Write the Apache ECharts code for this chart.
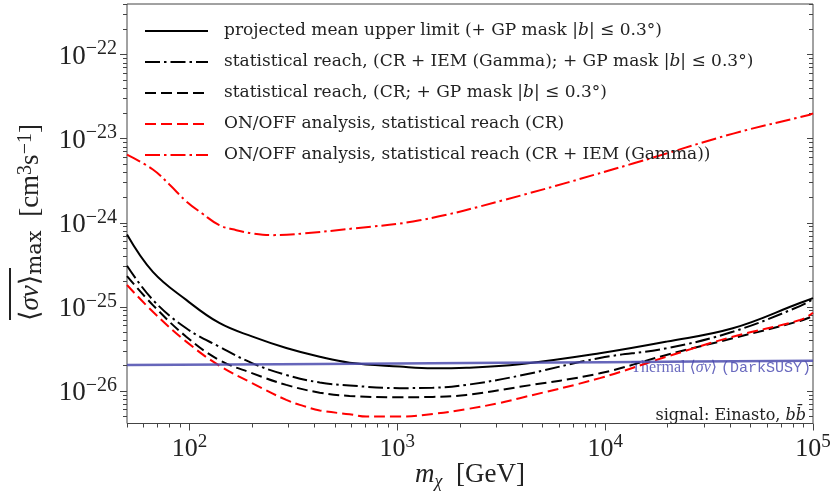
<!DOCTYPE html>
<html>
<head>
<meta charset="utf-8">
<script src="https://cdn.jsdelivr.net/npm/echarts@6/dist/echarts.min.js"></script>
<style>
  html, body { margin: 0; padding: 0; background: #fff; }
  #chart { width: 832px; height: 495px; }
</style>
</head>
<body>
<div id="chart"></div>
<script>
// values (m in GeV, <sigma v> in cm^3 s^-1)
var massLimit = [50, 66.6, 96.4, 139, 201, 292, 423, 589, 1025, 1480, 2147, 3880, 9420, 19700, 41100, 86500, 100000];
var sigvLimit = [7.26e-25, 2.61e-25, 1.21e-25, 6.43e-26, 4.42e-26, 3.24e-26, 2.55e-26, 2.17e-26, 1.95e-26, 1.86e-26, 1.89e-26, 2.08e-26, 2.81e-26, 3.86e-26, 5.56e-26, 1.11e-25, 1.27e-25];

var massReachIem = [50, 66.6, 96.4, 139, 201, 292, 423, 589, 1025, 1480, 2147, 3880, 9420, 19700, 41100, 86500, 100000];
var sigvReachIem = [3.08e-25, 1.21e-25, 5.56e-26, 3.36e-26, 2.13e-26, 1.55e-26, 1.26e-26, 1.16e-26, 1.08e-26, 1.09e-26, 1.18e-26, 1.52e-26, 2.47e-26, 3.21e-26, 5.06e-26, 1.02e-25, 1.24e-25];

var massReachCr = [50, 66.6, 96.4, 139, 201, 292, 423, 589, 1025, 1480, 2147, 3880, 9420, 19700, 41100, 86500, 100000];
var sigvReachCr = [2.32e-25, 1.05e-25, 4.42e-26, 2.33e-26, 1.62e-26, 1.18e-26, 9.54e-27, 8.72e-27, 8.41e-27, 8.49e-27, 8.96e-27, 1.12e-26, 1.62e-26, 2.68e-26, 4.23e-26, 6.8e-26, 7.78e-26];

var massOnOffCr = [50, 66.6, 96.4, 139, 201, 292, 352, 423, 589, 710, 1025, 1480, 2147, 3110, 3880, 9420, 19700, 41100, 86500, 100000];
var sigvOnOffCr = [1.82e-25, 8.75e-26, 3.86e-26, 2.0e-26, 1.23e-26, 7.82e-27, 6.64e-27, 5.85e-27, 5.28e-27, 4.95e-27, 4.95e-27, 5.33e-27, 6.07e-27, 7.2e-27, 8.2e-27, 1.42e-26, 2.55e-26, 4.42e-26, 6.97e-26, 8.51e-26];

var massOnOffIem = [50, 66.6, 80, 96.4, 115, 139, 168, 202, 252, 352, 611, 1280, 3220, 13600, 41300, 96600, 100000];
var sigvOnOffIem = [6.47e-24, 4.3e-24, 2.85e-24, 1.8e-24, 1.29e-24, 9.37e-25, 8.17e-25, 7.46e-25, 7.13e-25, 7.46e-25, 8.55e-25, 1.07e-24, 1.85e-24, 5.06e-24, 1.15e-23, 1.93e-23, 2.0e-23];

var massThermal = [50, 1000, 10000, 100000];
var sigvThermal = [2.03e-26, 2.12e-26, 2.2e-26, 2.29e-26];

var xMajor = [2, 3, 4, 5];          // exponents of 10 (GeV)
var yMajor = [-26, -25, -24, -23, -22];

var seriesNames = [
  'projected mean upper limit (+ GP mask |b| ≤ 0.3°)',
  'statistical reach, (CR + IEM (Gamma); + GP mask |b| ≤ 0.3°)',
  'statistical reach, (CR; + GP mask |b| ≤ 0.3°)',
  'ON/OFF analysis, statistical reach (CR)',
  'ON/OFF analysis, statistical reach (CR + IEM (Gamma))'
];
var legendRich = [
  '{t|projected mean upper limit (+ GP mask |}{i|b}{t|| ≤ 0.3°)}',
  '{t|statistical reach, (CR + IEM (Gamma); + GP mask |}{i|b}{t|| ≤ 0.3°)}',
  '{t|statistical reach, (CR; + GP mask |}{i|b}{t|| ≤ 0.3°)}',
  '{t|ON/OFF analysis, statistical reach (CR)}',
  '{t|ON/OFF analysis, statistical reach (CR + IEM (Gamma))}'
];

var xMin = Math.log10(50), xMax = 5;
var yMin = Math.log10(4.1e-27), yMax = Math.log10(4e-22);

var SERIF = '"Liberation Serif", "DejaVu Serif", serif';
var WIDE = '"DejaVu Serif", "Liberation Serif", serif';
var AXC = '#444';

function toLog(ms, vs) {
  var out = [];
  for (var i = 0; i < ms.length; i++) out.push([Math.log10(ms[i]), Math.log10(vs[i])]);
  return out;
}

function minorTicks(lo, hi, n0, n1) {
  var t = [];
  for (var n = n0; n <= n1; n++) {
    for (var k = 2; k <= 9; k++) {
      var v = n + Math.log10(k);
      if (v >= lo - 1e-9 && v <= hi + 1e-9) t.push(v);
    }
  }
  return t;
}

var xMinor = minorTicks(xMin, xMax, 1, 4);
var yMinor = minorTicks(yMin, yMax, -27, -22);

var chart = echarts.init(document.getElementById('chart'), null, { renderer: 'canvas' });

var xTickRich = {
  b: { fontFamily: SERIF, fontSize: 26, lineHeight: 30, color: '#222', verticalAlign: 'bottom' },
  s: { fontFamily: SERIF, fontSize: 19, lineHeight: 18, color: '#222', verticalAlign: 'top' }
};
var yTickRich = {
  b: { fontFamily: SERIF, fontSize: 27, lineHeight: 31, color: '#222', verticalAlign: 'bottom' },
  s: { fontFamily: SERIF, fontSize: 20, lineHeight: 19, color: '#222', verticalAlign: 'top' }
};

function baseX(extra) {
  var a = {
    type: 'value', min: xMin, max: xMax, position: 'bottom',
    axisLine: { show: false, onZero: false },
    splitLine: { show: false },
    axisLabel: { show: false },
    axisTick: { show: false }
  };
  for (var k in extra) a[k] = extra[k];
  return a;
}
function baseY(extra) {
  var a = {
    type: 'value', min: yMin, max: yMax, position: 'left',
    axisLine: { show: false, onZero: false },
    splitLine: { show: false },
    axisLabel: { show: false },
    axisTick: { show: false }
  };
  for (var k in extra) a[k] = extra[k];
  return a;
}

var lineStyles = [
  { color: '#000', width: 2, type: 'solid' },
  { color: '#000', width: 2, type: [15, 4, 2.5, 4] },
  { color: '#000', width: 2, type: [11, 5] },
  { color: '#ff0000', width: 2, type: [11, 5] },
  { color: '#ff0000', width: 2, type: [15, 4, 2.5, 4] }
];
var curves = [
  toLog(massLimit, sigvLimit),
  toLog(massReachIem, sigvReachIem),
  toLog(massReachCr, sigvReachCr),
  toLog(massOnOffCr, sigvOnOffCr),
  toLog(massOnOffIem, sigvOnOffIem)
];

var series = [];
for (var i = 0; i < curves.length; i++) {
  series.push({
    name: seriesNames[i],
    type: 'line',
    data: curves[i],
    showSymbol: false,
    symbol: 'none',
    smooth: 0.4,
    lineStyle: lineStyles[i],
    itemStyle: { color: lineStyles[i].color },
    animation: false,
    z: 3
  });
}
series.push({
  name: 'thermal',
  type: 'line',
  data: toLog(massThermal, sigvThermal),
  showSymbol: false,
  symbol: 'none',
  smooth: 0.3,
  lineStyle: { color: '#4b4bae', width: 2.5, opacity: 0.85 },
  animation: false,
  z: 4
});

var option = {
  animation: false,
  backgroundColor: '#fff',
  grid: {
    left: 127, right: 19, top: 4, bottom: 71.5,
    outerBoundsMode: 'none', containLabel: false,
    show: true, borderColor: AXC, borderWidth: 1, backgroundColor: 'transparent'
  },
  legend: {
    data: seriesNames,
    orient: 'vertical',
    left: 144,
    top: 21,
    padding: 0,
    itemWidth: 63,
    itemHeight: 20,
    itemGap: 11,
    itemStyle: { color: 'rgba(0,0,0,0)', borderWidth: 0, opacity: 0 },
    formatter: function (name) { return legendRich[seriesNames.indexOf(name)]; },
    textStyle: {
      padding: [0, 0, 0, 11],
      lineHeight: 20,
      rich: {
        t: { fontFamily: WIDE, fontSize: 17, lineHeight: 20, color: '#222' },
        i: { fontFamily: WIDE, fontSize: 17, lineHeight: 20, color: '#222', fontStyle: 'italic' }
      }
    }
  },
  xAxis: [
    baseX({
      axisTick: { show: true, length: 7, customValues: xMajor, lineStyle: { color: AXC } },
      axisLabel: {
        show: true, margin: 9, customValues: xMajor,
        formatter: function (v) { return '{b|10}{s|' + Math.round(v) + '}'; },
        rich: xTickRich
      },
      name: '{i|m}{sub|χ}{n|  [GeV]}',
      nameLocation: 'middle',
      nameGap: 38,
      nameMoveOverlap: false,
      nameTextStyle: {
        rich: {
          i: { fontFamily: SERIF, fontSize: 27, fontStyle: 'italic', color: '#222', lineHeight: 30, verticalAlign: 'top' },
          sub: { fontFamily: SERIF, fontSize: 18, fontStyle: 'italic', color: '#222', lineHeight: 18, verticalAlign: 'bottom' },
          n: { fontFamily: SERIF, fontSize: 27, color: '#222', lineHeight: 30, verticalAlign: 'top' }
        }
      }
    }),
    baseX({ axisTick: { show: true, length: 4, customValues: xMinor, lineStyle: { color: AXC } } })
  ],
  yAxis: [
    baseY({
      axisTick: { show: true, length: 7, customValues: yMajor, lineStyle: { color: AXC } },
      axisLabel: {
        show: true, margin: 10, customValues: yMajor,
        formatter: function (v) { return '{b|10}{s|−' + Math.round(-v) + '}'; },
        rich: yTickRich
      }
    }),
    baseY({ axisTick: { show: true, length: 4, customValues: yMinor, lineStyle: { color: AXC } } }),
    baseY({ position: 'right', axisTick: { show: true, inside: true, length: 6, customValues: yMajor, lineStyle: { color: AXC } } }),
    baseY({ position: 'right', axisTick: { show: true, inside: true, length: 4, customValues: yMinor, lineStyle: { color: AXC } } })
  ],
  graphic: [
    {
      type: 'group',
      x: 31, y: 321,
      rotation: Math.PI / 2,
      children: [
        {
          type: 'text', x: 0, y: 0,
          style: {
            text: '{a|⟨}{i|σv}{a|⟩}{sub|max}{a|  [cm}{sup|3}{a|s}{sup|−1}{a|]}',
            align: 'left', verticalAlign: 'middle',
            rich: {
              a: { fontFamily: SERIF, fontSize: 27, lineHeight: 30, fill: '#222' },
              i: { fontFamily: SERIF, fontSize: 27, lineHeight: 30, fontStyle: 'italic', fill: '#222' },
              sub: { fontFamily: WIDE, fontSize: 21, lineHeight: 18, verticalAlign: 'bottom', fill: '#222' },
              sup: { fontFamily: SERIF, fontSize: 20, lineHeight: 18, verticalAlign: 'top', fill: '#222' }
            }
          }
        },
        {
          type: 'line',
          shape: { x1: 1, y1: -21, x2: 53, y2: -21 },
          style: { stroke: '#222', lineWidth: 2 }
        }
      ]
    },
    {
      type: 'text', x: 811, y: 368,
      style: {
        text: '{r|Thermal ⟨}{i|σv}{r|⟩ }{m|(DarkSUSY)}',
        align: 'right', verticalAlign: 'middle',
        rich: {
          r: { fontFamily: SERIF, fontSize: 16, fill: '#6a6abf' },
          i: { fontFamily: SERIF, fontSize: 16, fontStyle: 'italic', fill: '#6a6abf' },
          m: { fontFamily: '"Liberation Mono", "DejaVu Sans Mono", monospace', fontSize: 15, fill: '#6a6abf' }
        }
      }
    },
    {
      type: 'text', x: 806, y: 416,
      style: {
        text: '{r|signal: Einasto, }{i|bb̄}',
        align: 'right', verticalAlign: 'middle',
        rich: {
          r: { fontFamily: WIDE, fontSize: 16, fill: '#222' },
          i: { fontFamily: WIDE, fontSize: 16, fontStyle: 'italic', fill: '#222' }
        }
      }
    }
  ],
  series: series
};

chart.setOption(option);
</script>
</body>
</html>
